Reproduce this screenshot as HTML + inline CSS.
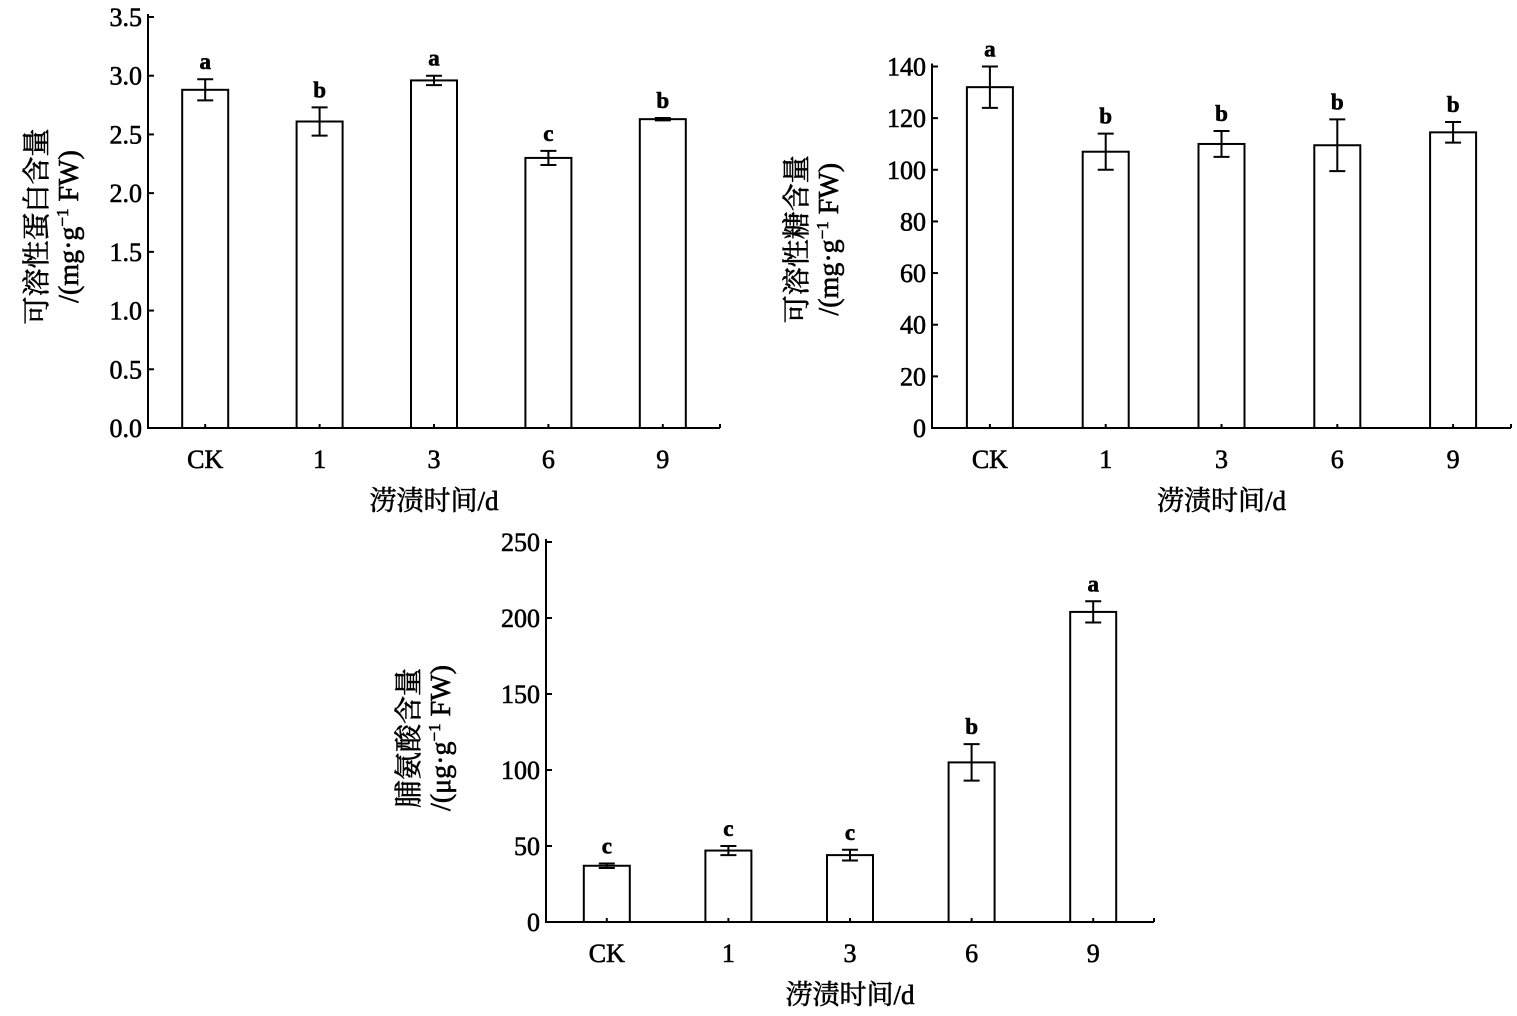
<!DOCTYPE html>
<html><head><meta charset="utf-8"><style>
body{margin:0;background:#fff}
svg text{font-family:"Liberation Serif","Noto Serif CJK SC",serif;fill:#000;stroke:#000;stroke-width:0.6px}
</style></head><body>
<svg id="s" width="1517" height="1011" xmlns="http://www.w3.org/2000/svg"></svg>
<script>
const categories=["CK","1","3","6","9"];
const protein=[2.88,2.61,2.96,2.30,2.63];
const proteinErr=[0.09,0.12,0.04,0.06,0.01];
const proteinLetters=["a","b","a","c","b"];
const proteinTicks=["0.0","0.5","1.0","1.5","2.0","2.5","3.0","3.5"];
const sugar=[132,107,110,109.5,114.5];
const sugarErr=[8,7,5,10,4];
const sugarLetters=["a","b","b","b","b"];
const sugarTicks=["0","20","40","60","80","100","120","140"];
const proline=[37,47,44,105,204];
const prolineErr=[1.5,3,3.5,12,7];
const prolineLetters=["c","c","c","b","a"];
const prolineTicks=["0","50","100","150","200","250"];
const NS="http://www.w3.org/2000/svg";
const svg=document.getElementById('s');
function mk(t,a,p,txt){const e=document.createElementNS(NS,t);for(const k in a)e.setAttribute(k,a[k]);if(txt!==undefined)e.textContent=txt;(p||svg).appendChild(e);return e;}
function chart(cfg){
 const g=mk('g',{});
 
 
 const {x0,x1,y0,yTop,max,ticks,vals,errs,lets}=cfg;
 const y=v=>y0-(v/max)*(y0-yTop);
 const ax=mk('line',{x1:x0,y1:yTop-3,x2:x0,y2:y0+1,stroke:'#000','stroke-width':2},g);
 
 const bx=mk('line',{x1:x0-1,y1:y0,x2:x1,y2:y0,stroke:'#000','stroke-width':2},g);
 
 mk('line',{x1:x1,y1:y0,x2:x1,y2:y0-4,stroke:'#000','stroke-width':2},g);
 ticks.forEach(t=>{const v=parseFloat(t);const yy=y(v);
  mk('line',{x1:x0,y1:yy,x2:x0+6,y2:yy,stroke:'#000','stroke-width':2},g);
  const tl=mk('text',{x:x0-6,y:yy+9,'text-anchor':'end','font-size':26},g,t);
  });
 const step=(x1-x0)/categories.length;
 categories.forEach((c,i)=>{const cx=x0+step*(i+0.5);
  const b=mk('rect',{x:cx-23,y:y(vals[i]),width:46,height:y0-y(vals[i]),fill:'#fff',stroke:'#000','stroke-width':2},g);
  
  mk('line',{x1:cx,y1:y0,x2:cx,y2:y0-4,stroke:'#000','stroke-width':2},g);
  const t=y(vals[i]+errs[i]),bo=y(vals[i]-errs[i]);
  const e=mk('path',{d:`M${cx},${t}V${bo}M${cx-8},${t}H${cx+8}M${cx-8},${bo}H${cx+8}`,stroke:'#000','stroke-width':2,fill:'none'},g);
  
  const l=mk('text',{x:cx,y:t-10,'text-anchor':'middle','font-size':23,'font-weight':'bold'},g,lets[i]);
  
  const xl=mk('text',{x:cx,y:y0+40,'text-anchor':'middle','font-size':26},g,c);
  });
 const xt=mk('text',{x:(x0+x1)/2,y:y0+82,'text-anchor':'middle','font-size':27},g,'涝渍时间/d');
 
 const ym=(y0+yTop)/2+cfg.dy;
 const yt=mk('text',{transform:`translate(${cfg.ty},${ym}) rotate(-90)`,'text-anchor':'middle','font-size':28},g);
 
 mk('tspan',{x:0,y:0},yt,cfg.t1);
 const t2=mk('tspan',{x:0,y:32},yt,cfg.unit+'·g');
 mk('tspan',{'font-size':17,dy:-10},yt,'−1');
 mk('tspan',{dy:10},yt,' FW)');
}
chart({name:'soluble-protein-chart',x0:148,x1:720,y0:428,yTop:17,max:3.5,ticks:proteinTicks,vals:protein,errs:proteinErr,lets:proteinLetters,t1:'可溶性蛋白含量',unit:'/(mg',ty:46,dy:4});
chart({name:'soluble-sugar-chart',x0:932,x1:1511,y0:428,yTop:66.5,max:140,ticks:sugarTicks,vals:sugar,errs:sugarErr,lets:sugarLetters,t1:'可溶性糖含量',unit:'/(mg',ty:806,dy:-8});
chart({name:'proline-chart',x0:546,x1:1154,y0:922,yTop:542,max:250,ticks:prolineTicks,vals:proline,errs:prolineErr,lets:prolineLetters,t1:'脯氨酸含量',unit:'/(μg',ty:418,dy:6});
</script>
</body></html>
